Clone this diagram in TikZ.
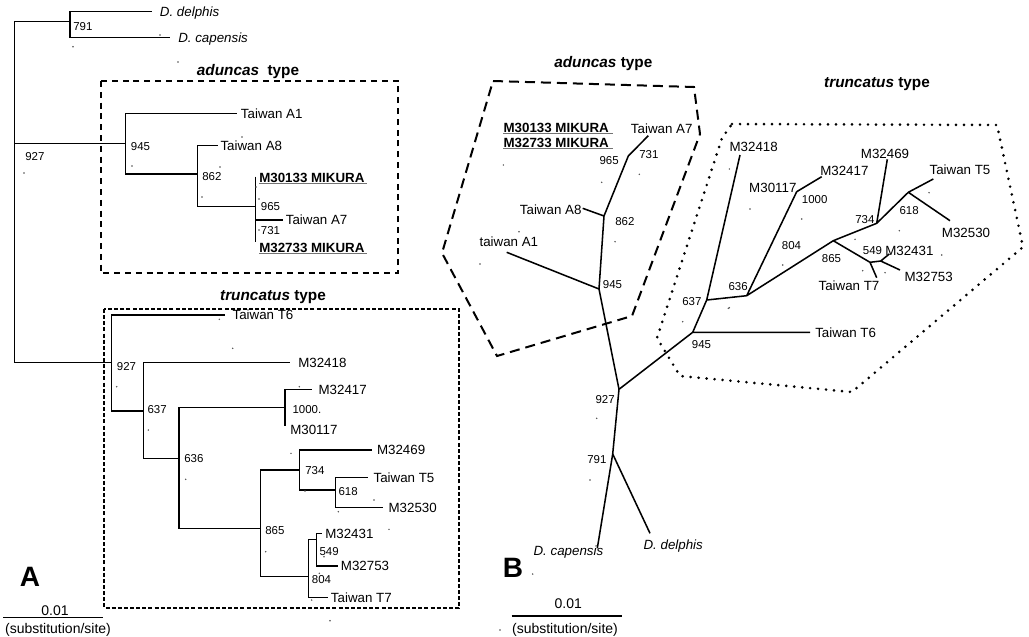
\documentclass[tikz,border=0pt]{standalone}
\usepackage{fontspec}
\setmainfont{Liberation Sans}
\begin{document}
\begin{tikzpicture}[x=0.75pt,y=-0.75pt,
  br/.style={line width=1.15pt,line join=miter},
  lab/.style={font=\fontsize{10}{12}\selectfont,inner sep=0pt,text height=7.2pt,text depth=0pt},
  leaf/.style={lab,anchor=west,inner xsep=#1},
  leaf/.default=2pt,
  bs/.style={font=\fontsize{8.6}{10}\selectfont,inner sep=0pt,text height=6.2pt,text depth=0pt},
  mik/.style={lab,font=\fontsize{10}{12}\selectfont\bfseries,anchor=west},
  ul/.style={line width=1pt,draw=black!55},
  head/.style={font=\fontsize{11.5}{14}\selectfont\bfseries,inner sep=0pt},
  big/.style={font=\fontsize{21}{24}\selectfont\bfseries,inner sep=0pt},
  speck/.style={fill=black!70},
]
\useasboundingbox (0,0) rectangle (1029,636);

% ================= Panel A =================
% boxes
\draw[line width=1.5pt,dash pattern=on 4.5pt off 3.6pt] (101,81) rectangle (398,273);
\draw[line width=1.7pt,dash pattern=on 3pt off 1.6pt] (104.3,309) rectangle (459,608.3);
\node[head] (hAa) at (248,72) {\textit{aduncas}\ \ type};
\node[head] (hAt) at (273,297) {\textit{truncatus}\ type};

% root
\coordinate (L0) at (14.7,143.3);
\coordinate (L791) at (70,21.7);
\coordinate (LA945) at (125.7,143.3);
\coordinate (LT927) at (111.7,362.7);
\node[leaf=6pt] (LDdel) at (151.7,11.7) {\textit{D. delphis}};
\node[leaf=6pt] (LDcap) at (170,37.7) {\textit{D. capensis}};
\draw[br] (L0) |- (L791) (L0) |- (LT927) (L0) -- (LA945);
\draw[br] (L791) |- (LDdel.west) (L791) |- (LDcap.west);

% aduncas
\coordinate (LA862) at (197.3,174);
\coordinate (LA965) at (255.7,206.7);
\coordinate (LM1) at (255.7,176.7);
\coordinate (LM2) at (255.7,241.7);
\node[leaf=3pt] (LA1) at (236.7,113.7) {Taiwan A1};
\node[leaf=1.5pt] (LA8) at (218.3,145.3) {Taiwan A8};
\node[leaf=2.2pt] (LA7) at (282.7,220) {Taiwan A7};
\draw[br] (LA945) |- (LA1.west) (LA945) |- (LA862);
\draw[br] (LA862) |- (LA8.west) (LA862) |- (LA965);
\draw[br] (LM1) -- (LM2) (LA965) |- (LA7.west);
\node[mik] (LMik1) at (259,177.3) {M30133 MIKURA};
\node[mik] (LMik2) at (259,247.3) {M32733 MIKURA};
\draw[ul] ([yshift=-1pt]LMik1.base west) -- ([xshift=2pt,yshift=-1pt]LMik1.base east);
\draw[ul] ([yshift=-1pt]LMik2.base west) -- ([xshift=2pt,yshift=-1pt]LMik2.base east);

% truncatus
\coordinate (LT637) at (143.3,411);
\coordinate (LT636) at (179,458.3);
\coordinate (LT1000) at (285,407.3);
\coordinate (LT30117) at (285,426);
\coordinate (LT865) at (260.7,528.3);
\coordinate (LT734) at (299.3,470);
\coordinate (LT618) at (335.7,490);
\coordinate (LT804) at (308.3,576.7);
\coordinate (LT549) at (316.7,539.3);
\node[leaf=5.5pt] (LT6) at (225,315) {Taiwan T6};
\node[leaf=6pt] (L418) at (290,362.7) {M32418};
\node[leaf=5pt] (L417) at (311.7,389.3) {M32417};
\node[lab,anchor=west] (L117) at (290,430) {M30117};
\node[leaf=3.8pt] (L469) at (371.7,450) {M32469};
\node[leaf=3.8pt] (LT5) at (368.3,477.3) {Taiwan T5};
\node[leaf=3.8pt] (L530) at (383.3,507.3) {M32530};
\node[leaf=2.5pt] (L431) at (321.7,533.3) {M32431};
\node[leaf=1.8pt] (L753) at (338.3,566) {M32753};
\node[leaf=1.8pt] (LT7) at (328.3,597.3) {Taiwan T7};
\draw[br] (LT927) |- (LT6.west) (LT927) |- (LT637);
\draw[br] (LT637) |- (L418.west) (LT637) |- (LT636);
\draw[br] (LT636) |- (LT1000) (LT636) |- (LT865);
\draw[br] (LT1000) |- (L417.west) (LT1000) -- (LT30117);
\draw[br] (LT865) |- (LT734) (LT865) |- (LT804);
\draw[br] (LT734) |- (L469.west) (LT734) |- (LT618);
\draw[br] (LT618) |- (LT5.west) (LT618) |- (L530.west);
\draw[br] (LT804) |- (LT549) (LT804) |- (LT7.west);
\draw[br] (LT549) |- (L431.west) (LT549) |- (L753.west);

% bootstrap values A
\node[bs,anchor=west] (bA1) at (73,26) {791};
\node[bs,anchor=west] (bA2) at (25,156) {927};
\node[bs,anchor=west] (bA3) at (130.7,146.7) {945};
\node[bs,anchor=west] (bA4) at (202,176.7) {862};
\node[bs,anchor=west] (bA5) at (260.7,206) {965};
\node[bs,anchor=west] (bA6) at (260.7,230.5) {731};
\node[bs,anchor=west] (bA7) at (116.7,366.7) {927};
\node[bs,anchor=west] (bA8) at (147.3,409) {637};
\node[bs,anchor=west] (bA9) at (292.3,409.3) {1000.};
\node[bs,anchor=west] (bA10) at (184,458.3) {636};
\node[bs,anchor=west] (bA11) at (305,470) {734};
\node[bs,anchor=west] (bA12) at (338.3,491.7) {618};
\node[bs,anchor=west] (bA13) at (265,530.7) {865};
\node[bs,anchor=west] (bA14) at (319.3,551.7) {549};
\node[bs,anchor=west] (bA15) at (311.7,579.3) {804};

% letter and scale A
\node[big] (letA) at (30,577) {A};
\coordinate (sA1) at (3,617.3);
\coordinate (sA2) at (102.7,617.3);
\draw[line width=0.8pt] (sA1) -- (sA2);
\node[lab,font=\fontsize{10.5}{12}\selectfont] (sAt) at (55,610.5) {0.01};
\node[font=\fontsize{10.5}{12}\selectfont,inner sep=0pt] (sAu) at (58,630) {(substitution/site)};

% ================= Panel B =================
\draw[line width=1.5pt,dash pattern=on 7.5pt off 4.5pt]
  (493,81) -- (694,87) -- (700,134) -- (632,316) -- (497,356) -- (442,253) -- cycle;
\draw[line width=2.2pt,line cap=round,dash pattern=on 0pt off 6pt]
  (732,124) -- (997,125) -- (1023,247) -- (852,392) -- (680,376) -- (657,338) -- (722,138) -- cycle;
\node[head] (hBa) at (603.3,63.3) {\textit{aduncas} type};
\node[head] (hBt) at (877,84) {\textit{truncatus} type};

% nodes
\coordinate (r945A) at (599,289);
\coordinate (r862) at (604,216);
\coordinate (r965) at (628.3,156);
\coordinate (tA7) at (648.3,135.7);
\coordinate (tA8) at (582.7,208.3);
\coordinate (tA1) at (506.7,252.3);
\coordinate (r927) at (619,389.3);
\coordinate (r791) at (612.7,454);
\coordinate (tcap) at (597.3,548.3);
\coordinate (tdel) at (650,533.3);
\coordinate (r945T) at (692.7,332.3);
\coordinate (tT6) at (810,332.3);
\coordinate (r637) at (706.7,300);
\coordinate (t418) at (740,155);
\coordinate (r636) at (746.7,295.7);
\coordinate (r1000) at (796.7,191.7);
\coordinate (t417) at (821.7,176.7);
\coordinate (r865) at (833.3,240.7);
\coordinate (r734) at (876.7,223.3);
\coordinate (t469) at (887.3,159.3);
\coordinate (r618) at (908.3,192.3);
\coordinate (tT5) at (933.3,179);
\coordinate (t530) at (950,220.7);
\coordinate (r804) at (870,262.3);
\coordinate (tT7) at (876.7,277.7);
\coordinate (r549) at (880.7,261);
\coordinate (t431) at (889.3,254);
\coordinate (t753) at (900,270);

\draw[br] (r965) -- (tA7) (r965) -- (r862) (r862) -- (tA8) (r862) -- (r945A)
  (r945A) -- (tA1) (r945A) -- (r927) (r927) -- (r791) (r791) -- (tcap) (r791) -- (tdel)
  (r927) -- (r945T) (r945T) -- (tT6) (r945T) -- (r637) (r637) -- (t418) (r637) -- (r636)
  (r636) -- (r1000) (r1000) -- (t417) (r636) -- (r865) (r865) -- (r734) (r734) -- (t469)
  (r734) -- (r618) (r618) -- (tT5) (r618) -- (t530) (r865) -- (r804) (r804) -- (tT7)
  (r804) -- (r549) (r549) -- (t431) (r549) -- (t753);

% leaf labels B
\node[mik] (RMik1) at (503.3,127.3) {M30133 MIKURA};
\node[mik] (RMik2) at (503.3,142.3) {M32733 MIKURA};
\draw[ul] ([yshift=-1pt]RMik1.base west) -- ([xshift=3pt,yshift=-1pt]RMik1.base east);
\draw[ul] ([yshift=-1pt]RMik2.base west) -- ([xshift=3pt,yshift=-1pt]RMik2.base east);
\node[lab,anchor=west] (RA7) at (630.7,128.3) {Taiwan A7};
\node[lab,anchor=east] (RA8) at (581.7,209.3) {Taiwan A8};
\node[lab,anchor=west] (RA1) at (479.3,241.7) {taiwan A1};
\node[lab,anchor=west] (Rcap) at (533.3,550.7) {\textit{D. capensis}};
\node[lab,anchor=west] (Rdel) at (643.3,544.3) {\textit{D. delphis}};
\node[lab,anchor=west] (RT6) at (815,332.3) {Taiwan T6};
\node[lab,anchor=west] (R418) at (729.3,146.7) {M32418};
\node[lab,anchor=east] (R117) at (796.7,187.3) {M30117};
\node[lab,anchor=west] (R417) at (820,171) {M32417};
\node[lab,anchor=west] (R469) at (860.7,153.3) {M32469};
\node[lab,anchor=west] (RT5) at (929.3,170) {Taiwan T5};
\node[lab,anchor=west] (R530) at (941.7,232.7) {M32530};
\node[lab,anchor=west] (R431) at (885,250.7) {M32431};
\node[lab,anchor=west] (R753) at (904.3,276.7) {M32753};
\node[lab,anchor=west] (RT7) at (818.3,286) {Taiwan T7};

% bootstrap values B
\node[bs,anchor=east] (bB1) at (619,160.7) {965};
\node[bs,anchor=west] (bB2) at (639,154) {731};
\node[bs,anchor=west] (bB3) at (615,221) {862};
\node[bs,anchor=west] (bB4) at (602.7,284) {945};
\node[bs,anchor=east] (bB5) at (615,399) {927};
\node[bs,anchor=east] (bB6) at (606.7,459.3) {791};
\node[bs,anchor=west] (bB7) at (691.7,344.3) {945};
\node[bs,anchor=east] (bB8) at (701.7,301.7) {637};
\node[bs,anchor=west] (bB9) at (728.3,286.7) {636};
\node[bs,anchor=west] (bB10) at (801.7,199) {1000};
\node[bs,anchor=west] (bB11) at (781.7,245.7) {804};
\node[bs,anchor=west] (bB12) at (821.7,258.3) {865};
\node[bs,anchor=west] (bB13) at (855,219) {734};
\node[bs,anchor=west] (bB14) at (899.3,210) {618};
\node[bs,anchor=west] (bB15) at (862.7,250) {549};

% letter and scale B
\node[big] (letB) at (513,568) {B};
\coordinate (sB1) at (511.7,616);
\coordinate (sB2) at (621.7,616);
\draw[line width=0.8pt] (sB1) -- (sB2);
\node[lab,font=\fontsize{10.5}{12}\selectfont] (sBt) at (568.3,604) {0.01};
\node[font=\fontsize{10.5}{12}\selectfont,inner sep=0pt] (sBu) at (565,630) {(substitution/site)};

% specks
\foreach \p in {(73,46.7),(160,35),(178,62),(24,173),(132,166),(242,137),(220,167),(202,197),(256,187),(259,199),(259,230),
  (219.3,319.3),(232.7,348.3),(116.7,386.7),(299.3,386.7),(148.3,430),(291,453.3),(185.7,479.3),(305,491),(374,500),(338.3,511.7),
  (389,529.3),(265.7,551.7),(324,556.7),(319.3,573.3),(311.7,600),(330,620.7),
  (503.3,165),(601.7,182.3),(639.3,174.3),(519,231.7),(615,241.7),(480,264),(728.3,308.3),
  (729.3,169),(750,209),(801.7,219),(782.7,265),(855,239.3),(899.3,230.7),(929,192.7),(941.7,255),(862.7,270.7),(885,272.7),
  (729.3,307.7),(682.7,321.7),(596.7,418.3),(590,480),(532.7,574),(500,630)}
  \fill[speck] \p circle (0.8);
\end{tikzpicture}
\end{document}
